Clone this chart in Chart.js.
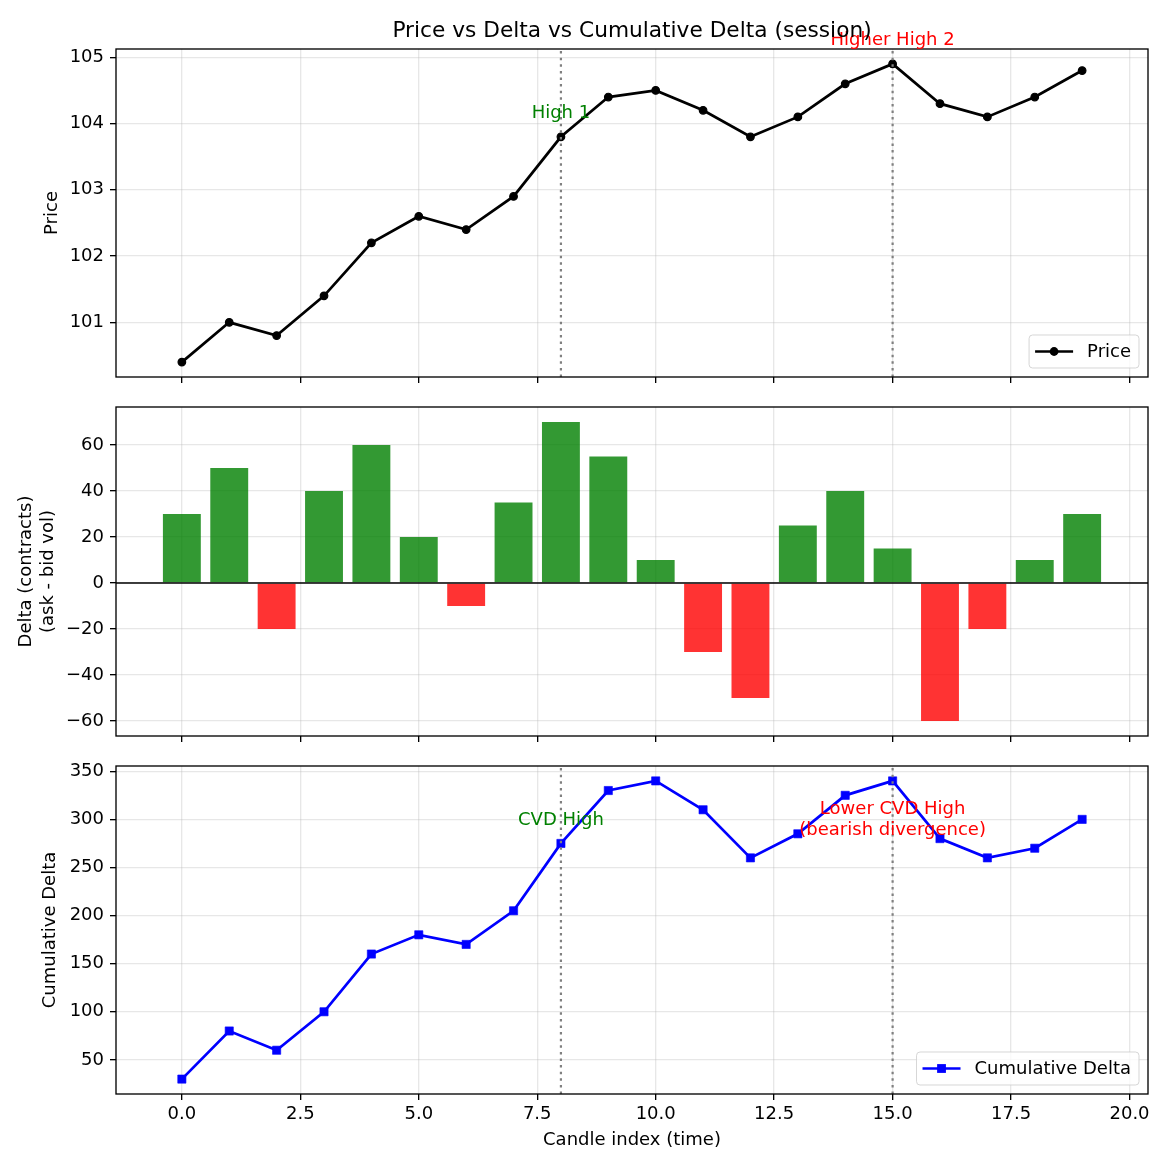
<!DOCTYPE html>
<html>
<head>
<meta charset="utf-8">
<script src="https://cdn.jsdelivr.net/npm/chart.js@4.4.1/dist/chart.umd.min.js"></script>
<style>
  html, body { margin: 0; padding: 0; background: #fff; }
  #wrap { position: relative; width: 1170px; height: 1170px; }
  #wrap canvas { position: absolute; left: 0; top: 0; }
</style>
</head>
<body>
<div id="wrap">
  <canvas id="cPrice" width="1170" height="1170"></canvas>
  <canvas id="cDelta" width="1170" height="1170"></canvas>
  <canvas id="cCvd" width="1170" height="1170"></canvas>
</div>
<script>
// data
const candles = [0, 1, 2, 3, 4, 5, 6, 7, 8, 9, 10, 11, 12, 13, 14, 15, 16, 17, 18, 19];
const price = [100.4, 101.0, 100.8, 101.4, 102.2, 102.6, 102.4, 102.9, 103.8, 104.4,
               104.5, 104.2, 103.8, 104.1, 104.6, 104.9, 104.3, 104.1, 104.4, 104.8];
const delta = [30, 50, -20, 40, 60, 20, -10, 35, 70, 55, 10, -30, -50, 25, 40, 15, -60, -20, 10, 30];
const cumDelta = [30, 80, 60, 100, 160, 180, 170, 205, 275, 330, 340, 310, 260, 285, 325, 340, 280, 260, 270, 300];

const xTicks = [0, 2.5, 5, 7.5, 10, 12.5, 15, 17.5, 20];
const priceTicks = [101, 102, 103, 104, 105];
const deltaTicks = [-60, -40, -20, 0, 20, 40, 60];
const cvdTicks = [50, 100, 150, 200, 250, 300, 350];

const markLines = [8, 15];   // the two highs
const priceNotes = [
  { x: 8, y: 104.18, lines: ['High 1'], color: 'green' },
  { x: 15, y: 105.28, lines: ['Higher High 2'], color: 'red' }
];
const cvdNotes = [
  { x: 8, y: 300.7, lines: ['CVD High'], color: 'green' },
  { x: 15, y: 301, lines: ['Lower CVD High', '(bearish divergence)'], color: 'red' }
];

// look
const FS = 18;
const FAMILY = "'DejaVu Sans', sans-serif";
const FONT = FS + 'px ' + FAMILY;
const GRID = 'rgba(176,176,176,0.3)';
const LEFT = 116, RIGHT = 1148;

Chart.defaults.font.family = FAMILY;
Chart.defaults.font.size = FS;
Chart.defaults.color = '#000';

function xScale(showLabels, h, z) {
  return {
    type: 'linear', min: -1.39, max: 20.39, offset: false, z: z || 0,
    afterBuildTicks: s => { s.ticks = xTicks.map(v => ({ value: v })); },
    afterFit: s => { s.height = h; },
    grid: { color: GRID, lineWidth: 1.33, tickColor: '#000', tickWidth: 1.33, tickLength: 6, offset: false },
    border: { display: false },
    ticks: { display: showLabels, padding: 3.5, autoSkip: false, maxRotation: 0, callback: v => v.toFixed(1) },
    title: { display: showLabels, text: 'Candle index (time)', padding: { top: 0, bottom: 3 } }
  };
}

function yScale(min, max, ticks, title, titlePad, fmt, z) {
  return {
    type: 'linear', min: min, max: max, z: z || 0,
    afterBuildTicks: s => { s.ticks = ticks.map(v => ({ value: v })); },
    afterFit: s => { s.width = LEFT; },
    grid: { color: GRID, lineWidth: 1.33, tickColor: '#000', tickWidth: 1.33, tickLength: 6 },
    border: { display: false },
    ticks: { padding: 6, autoSkip: false, callback: fmt || (v => String(v)) },
    title: { display: true, text: title, padding: { top: titlePad, bottom: 0 } }
  };
}

function drawLegend(ctx, a, lg) {
  ctx.font = FONT;
  const tw = ctx.measureText(lg.label).width;
  const w = 6 + 38 + 14 + tw + 8, h = 33;
  const x0 = a.right - 9 - w, y0 = a.bottom - 9 - h;
  ctx.beginPath();
  ctx.roundRect(x0, y0, w, h, 3.5);
  ctx.fillStyle = 'rgba(255,255,255,0.8)';
  ctx.fill();
  ctx.strokeStyle = 'rgba(204,204,204,0.8)';
  ctx.lineWidth = 1;
  ctx.stroke();
  const cy = y0 + h / 2;
  ctx.strokeStyle = lg.color;
  ctx.lineWidth = 2.7;
  ctx.beginPath();
  ctx.moveTo(x0 + 6, cy);
  ctx.lineTo(x0 + 44, cy);
  ctx.stroke();
  ctx.fillStyle = lg.color;
  if (lg.square) {
    ctx.fillRect(x0 + 25 - 4.4, cy - 4.4, 8.8, 8.8);
  } else {
    ctx.beginPath();
    ctx.arc(x0 + 25, cy, 4.4, 0, Math.PI * 2);
    ctx.fill();
  }
  ctx.fillStyle = '#000';
  ctx.textAlign = 'left';
  ctx.textBaseline = 'middle';
  ctx.fillText(lg.label, x0 + 58, cy + 1);
}

function extras(opt) {
  return {
    id: 'extras',
    afterDatasetsDraw(chart) {
      const { ctx, chartArea: a, scales: { x } } = chart;
      ctx.save();
      if (opt.vlines) {
        ctx.strokeStyle = '#808080';
        ctx.lineWidth = 2.2;
        ctx.setLineDash([2.5, 4.1]);
        opt.vlines.forEach(v => {
          const px = x.getPixelForValue(v);
          ctx.beginPath();
          ctx.moveTo(px, a.bottom);
          ctx.lineTo(px, a.top);
          ctx.stroke();
        });
        ctx.setLineDash([]);
      }
      ctx.restore();
    },
    afterDraw(chart) {
      const { ctx, chartArea: a, scales: { x, y } } = chart;
      ctx.save();
      // zero line (drawn above the grid)
      if (opt.zeroLine) {
        const py = y.getPixelForValue(0);
        ctx.strokeStyle = '#000';
        ctx.lineWidth = 1.33;
        ctx.beginPath();
        ctx.moveTo(a.left, py);
        ctx.lineTo(a.right, py);
        ctx.stroke();
      }
      // all four spines
      ctx.strokeStyle = '#000';
      ctx.lineWidth = 1.33;
      ctx.strokeRect(a.left, a.top, a.right - a.left, a.bottom - a.top);
      // text notes
      ctx.font = FONT;
      ctx.textAlign = 'center';
      ctx.textBaseline = 'middle';
      (opt.notes || []).forEach(n => {
        const px = x.getPixelForValue(n.x), py = y.getPixelForValue(n.y) + 1.5;
        const lh = FS * 1.2;
        const y0 = py - (n.lines.length - 1) * lh / 2;
        ctx.fillStyle = n.color;
        n.lines.forEach((t, i) => ctx.fillText(t, px, y0 + i * lh));
      });
      if (opt.legend) drawLegend(ctx, a, opt.legend);
      if (opt.title) {
        ctx.font = '21.7px ' + FAMILY;
        ctx.fillStyle = '#000';
        ctx.textAlign = 'center';
        ctx.textBaseline = 'middle';
        ctx.fillText(opt.title, (a.left + a.right) / 2, 31);
      }
      ctx.restore();
    }
  };
}

function points(vals) {
  return vals.map((v, i) => ({ x: candles[i], y: v }));
}

const common = {
  responsive: false,
  animation: false,
  events: [],
  plugins: { legend: { display: false }, title: { display: false }, tooltip: { enabled: false } }
};

// price panel
new Chart(document.getElementById('cPrice'), {
  type: 'line',
  data: {
    datasets: [{
      label: 'Price',
      data: points(price),
      borderColor: '#000',
      backgroundColor: '#000',
      borderWidth: 2.7,
      pointRadius: 3.8,
      pointBorderWidth: 1.2,
      pointBackgroundColor: '#000',
      pointBorderColor: '#000',
      tension: 0
    }]
  },
  options: Object.assign({}, common, {
    layout: { padding: { top: 49, bottom: 1170 - 377 - 8, left: 0, right: 1170 - RIGHT } },
    scales: {
      x: xScale(false, 8),
      y: yScale(100.175, 105.125, priceTicks, 'Price', 42)
    }
  }),
  plugins: [extras({
    vlines: markLines, notes: priceNotes,
    legend: { label: 'Price', color: '#000' },
    title: 'Price vs Delta vs Cumulative Delta (session)'
  })]
});

// delta panel: grid sits above the bars, like the original
new Chart(document.getElementById('cDelta'), {
  type: 'bar',
  data: {
    datasets: [{
      label: 'Delta',
      data: points(delta),
      backgroundColor: delta.map(v => v >= 0 ? 'rgba(0,128,0,0.8)' : 'rgba(255,0,0,0.8)'),
      borderWidth: 0,
      inflateAmount: 0,
      barPercentage: 0.8,
      categoryPercentage: 1.0
    }]
  },
  options: Object.assign({}, common, {
    layout: { padding: { top: 407, bottom: 1170 - 736 - 8, left: 0, right: 1170 - RIGHT } },
    scales: {
      x: xScale(false, 8, 1),
      y: yScale(-66.5, 76.5, deltaTicks, ['Delta (contracts)', '(ask - bid vol)'], 16,
                v => v < 0 ? '\u2212' + Math.abs(v) : String(v), 1)
    }
  }),
  plugins: [extras({ zeroLine: true })]
});

// cumulative delta panel
new Chart(document.getElementById('cCvd'), {
  type: 'line',
  data: {
    datasets: [{
      label: 'Cumulative Delta',
      data: points(cumDelta),
      borderColor: '#0000ff',
      backgroundColor: '#0000ff',
      borderWidth: 2.7,
      pointStyle: 'rect',
      pointRadius: 5.8,
      pointBorderWidth: 0.6,
      pointBackgroundColor: '#0000ff',
      pointBorderColor: '#0000ff',
      tension: 0
    }]
  },
  options: Object.assign({}, common, {
    layout: { padding: { top: 766, bottom: 1170 - 1094 - 60, left: 0, right: 1170 - RIGHT } },
    scales: {
      x: xScale(true, 60),
      y: yScale(14.5, 355.5, cvdTicks, 'Cumulative Delta', 40)
    }
  }),
  plugins: [extras({
    vlines: markLines, notes: cvdNotes,
    legend: { label: 'Cumulative Delta', color: '#0000ff', square: true }
  })]
});
</script>
</body>
</html>
